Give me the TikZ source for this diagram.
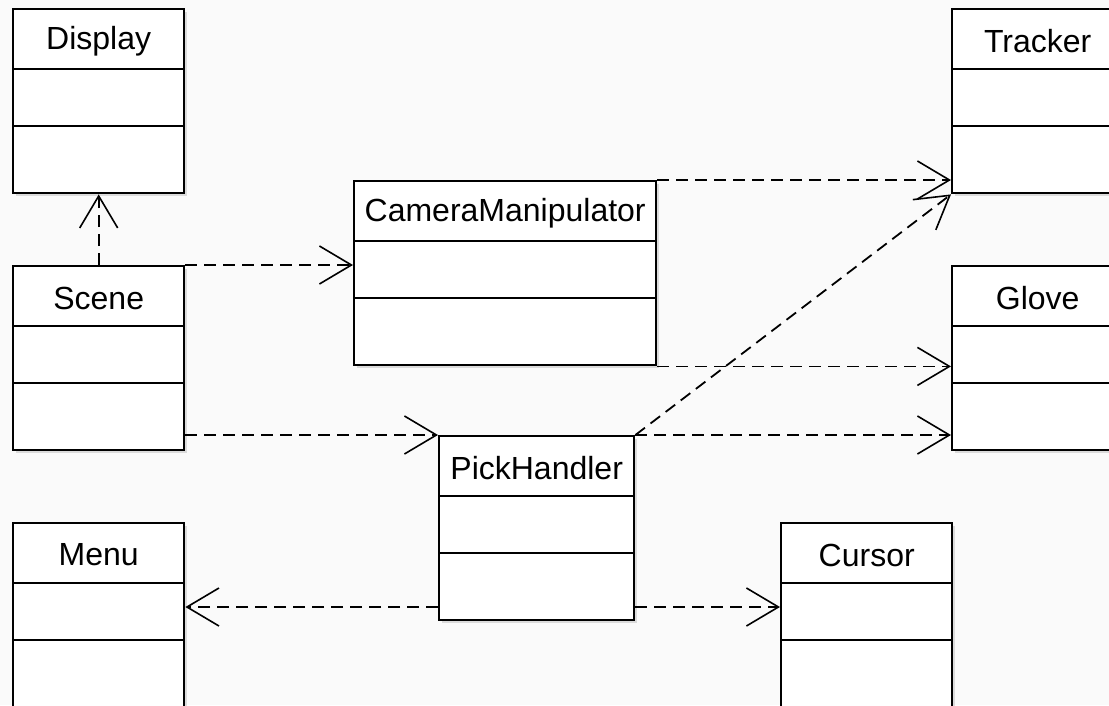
\documentclass[tikz,border=0pt]{standalone}
\usepackage{fontspec}
\setmainfont{Liberation Sans}
\usetikzlibrary{arrows.meta,shadows}
\begin{document}
\begin{tikzpicture}[x=1pt,y=-1pt,
  cls/.style={draw=black, line width=2.4pt, fill=white, anchor=north west,
    minimum height=184pt, inner sep=0pt,
    drop shadow={shadow xshift=3pt,shadow yshift=-3pt,opacity=0.25}},
  divider/.style={draw=black, line width=2pt},
  dep/.style={line width=1.8pt, dash pattern=on 12pt off 7pt,
    -{Straight Barb[length=32pt,width=38pt,line width=1.6pt]}},
  title/.style={font=\fontsize{32}{40}\selectfont, inner sep=0pt}]
\newcommand\umlbox[5]{%
  \node[cls, minimum width=#4pt] (#1) at (#2,#3) {};
  \draw[divider] ([yshift=-61pt]#1.north west) -- ([yshift=-61pt]#1.north east);
  \draw[divider] ([yshift=-118pt]#1.north west) -- ([yshift=-118pt]#1.north east);
  \node[title] (#1-t) at ([yshift=-33pt]#1.north) {#5};
}
\fill[gray!4] (0,0) rectangle (1109,705);
\useasboundingbox (0,0) rectangle (1109,705);

\umlbox{Display}{12}{8}{171}{Display}
\umlbox{Scene}{12}{265}{171}{Scene}
\umlbox{Menu}{12}{522}{171}{Menu}
\umlbox{Cam}{353}{180}{302}{CameraManipulator}
\umlbox{Pick}{438}{435}{195}{PickHandler}
\umlbox{Tracker}{951}{8}{171}{Tracker}
\umlbox{Glove}{951}{265}{171}{Glove}
\umlbox{Cursor}{780}{522}{171}{Cursor}

\coordinate (pl) at ([yshift=-172pt]Pick.north west);

\draw[dep] (Scene.north) -- (Display.south);
\draw[dep] (Scene.north east) -- (Scene.north east -| Cam.west);
\draw[dep] (Pick.north west -| Scene.east) -- (Pick.north west);
\draw[dep] (Cam.north east) -- (Cam.north east -| Tracker.west);
\draw[dep] (Cam.south east) -- (Cam.south east -| Glove.west);
\draw[dep] (Pick.north east) -- (Tracker.south west);
\draw[dep] (Pick.north east) -- (Pick.north east -| Glove.west);
\draw[dep] (pl) -- (pl -| Menu.east);
\draw[dep] (pl -| Pick.east) -- (pl -| Cursor.west);
\end{tikzpicture}
\end{document}
